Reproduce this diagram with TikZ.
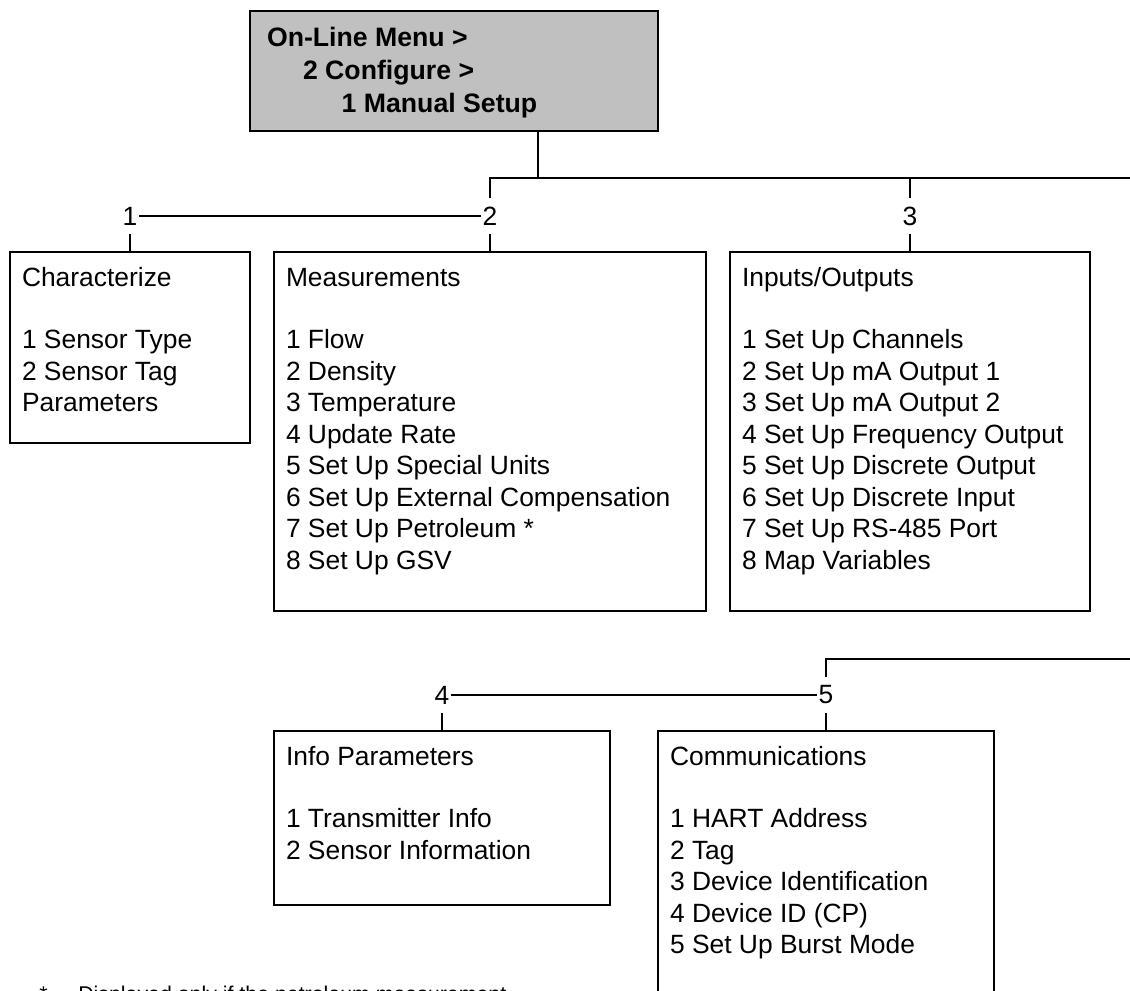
\documentclass[tikz,border=0pt]{standalone}
\usepackage{fontspec}
\setmainfont{Liberation Sans}
\definecolor{topgray}{RGB}{192,192,192}
\newcommand\boxfont{\fontsize{19.8pt}{23.6pt}\selectfont}
\newcommand\topfont{\fontsize{20pt}{24.4pt}\selectfont\bfseries}
\begin{document}
\begin{tikzpicture}[x=0.75pt,y=-0.75pt,
  menubox/.style={draw=black, line width=0.8pt, fill=white, inner sep=0pt, outer sep=0pt, anchor=north west},
  boxtext/.style={anchor=north west, inner sep=0pt, outer sep=0pt, align=left, font=\boxfont},
  num/.style={inner xsep=1.5pt, inner ysep=6.8pt, outer sep=0pt, font=\boxfont},
  conn/.style={draw=black, line width=1.2pt}]
\useasboundingbox (0,0) rectangle (1130,990);
\clip (0,0) rectangle (1130,990);

% top box
\node[menubox, fill=topgray, minimum width=306pt, minimum height=90pt] (top) at (250,11) {};
\node[anchor=north west, inner sep=0pt, outer sep=0pt, align=left, font=\topfont] (toptext) at (267,24.2)
  {\strut On-Line Menu >\\\strut\hspace*{27pt}2 Configure >\\\strut\hspace*{56pt}1 Manual Setup};

% first row boxes
\node[menubox, minimum width=180pt, minimum height=143.25pt] (b1) at (10,252) {};
\node[menubox, minimum width=324pt, minimum height=269.25pt] (b2) at (274,252) {};
\node[menubox, minimum width=270pt, minimum height=269.25pt] (b3) at (730,252) {};

\node[boxtext] (t1) at (22,264) {\strut Characterize\\\strut\\\strut 1 Sensor Type\\\strut 2 Sensor Tag\\\strut Parameters};
\node[boxtext] (t2) at (286,264) {\strut Measurements\\\strut\\\strut 1 Flow\\\strut 2 Density\\\strut 3 Temperature\\\strut 4 Update Rate\\\strut 5 Set Up Special Units\\\strut 6 Set Up External Compensation\\\strut 7 Set Up Petroleum *\\\strut 8 Set Up GSV};
\node[boxtext] (t3) at (742,264) {\strut Inputs/Outputs\\\strut\\\strut 1 Set Up Channels\\\strut 2 Set Up mA Output 1\\\strut 3 Set Up mA Output 2\\\strut 4 Set Up Frequency Output\\\strut 5 Set Up Discrete Output\\\strut 6 Set Up Discrete Input\\\strut 7 Set Up RS-485 Port\\\strut 8 Map Variables};

% second row boxes
\node[menubox, minimum width=252pt, minimum height=130.5pt] (b4) at (274,731) {};
\node[menubox, minimum width=252pt, minimum height=217.5pt] (b5) at (658,731) {};

\node[boxtext] (t4) at (286,743) {\strut Info Parameters\\\strut\\\strut 1 Transmitter Info\\\strut 2 Sensor Information};
\node[boxtext] (t5) at (670,743) {\strut Communications\\\strut\\\strut 1 HART Address\\\strut 2 Tag\\\strut 3 Device Identification\\\strut 4 Device ID (CP)\\\strut 5 Set Up Burst Mode};

% numbers
\node[num] (n1) at (130,216) {1};
\node[num] (n2) at (490,216) {2};
\node[num] (n3) at (910,216) {3};
\node[num] (n4) at (442,695) {4};
\node[num] (n5) at (826,695) {5};

% connectors row 1
\coordinate (jT) at (538,178);
\coordinate (jR) at (1135,178);
\draw[conn] (jT |- top.south) -- (jT);
\draw[conn] (n2.north) |- (jR);
\draw[conn] (n3.north) -- (n3.north |- jR);
\draw[conn] (n1.east) -- (n2.west);
\draw[conn] (n1.south) -- (n1.south |- b1.north);
\draw[conn] (n2.south) -- (n2.south |- b2.north);
\draw[conn] (n3.south) -- (n3.south |- b3.north);

% connectors row 2
\coordinate (jR2) at (1135,659);
\draw[conn] (n5.north) |- (jR2);
\draw[conn] (n4.east) -- (n5.west);
\draw[conn] (n4.south) -- (n4.south |- b4.north);
\draw[conn] (n5.south) -- (n5.south |- b5.north);

% footnote (cut by the picture edge, as in the reference)
\node[anchor=base west, inner sep=0pt, font=\fontsize{16pt}{19pt}\selectfont] (fnstar) at (39,1001) {*};
\node[anchor=base west, inner sep=0pt, font=\fontsize{16pt}{19pt}\selectfont] (fntext) at (78,1001) {Displayed only if the petroleum measurement};
\end{tikzpicture}
\end{document}
